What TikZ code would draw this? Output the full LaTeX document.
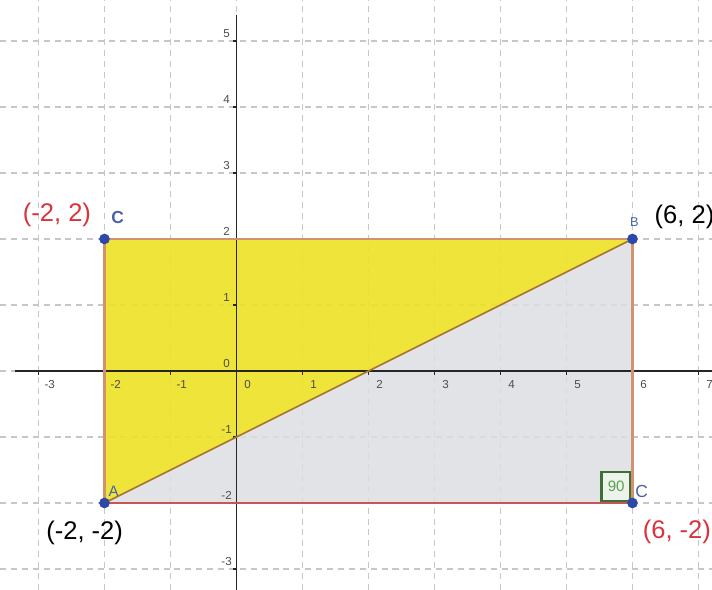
\documentclass[tikz,border=0pt]{standalone}
\usepackage{fontspec}
\setmainfont{Liberation Sans}
\definecolor{ptblue}{HTML}{2E48A8}
\definecolor{lblblue}{HTML}{4A62A8}
\definecolor{lblred}{HTML}{D8343C}
\definecolor{fillyellow}{HTML}{EEE224}
\definecolor{fillgray}{HTML}{DCDFE3}
\definecolor{edgetan}{HTML}{D29270}
\definecolor{edgered}{HTML}{C85658}
\definecolor{diag}{HTML}{A8782E}
\definecolor{angdark}{HTML}{3F6E38}
\definecolor{angtext}{HTML}{5E9C55}
\begin{document}
\begin{tikzpicture}[x=1cm,y=1cm,
  gridline/.style={draw=black!22, line width=0.5pt, dash pattern=on 2.6pt off 2.1pt},
  axisline/.style={draw=black!85, line width=0.8pt},
  ticklbl/.style={font=\fontsize{5}{6}\selectfont, text=black!70, inner sep=0pt},
  dot/.style={circle, fill=ptblue, inner sep=0pt, minimum size=4.6pt},
  ptname/.style={text=lblblue, inner sep=0pt},
  coordlbl/.style={font=\fontsize{11}{13}\selectfont, inner sep=0pt},
]
\useasboundingbox (-3.583,-3.318) rectangle (7.205,5.621);
\fill[white] (-3.583,-3.318) rectangle (7.205,5.621);

% grid
\foreach \x in {-3,...,7} \draw[gridline] (\x,-3.318) -- (\x,5.621);
\foreach \y in {-3,...,5} \draw[gridline] (-3.583,\y) -- (7.205,\y);

% points
\coordinate (A) at (-2,-2);
\coordinate (B) at (6,2);
\coordinate (C) at (6,-2);
\coordinate (D) at (-2,2);

% fills
\fill[fillyellow, fill opacity=0.9] (D) -- (B) -- (A) -- cycle;
\fill[fillgray, fill opacity=0.85] (A) -- (B) -- (C) -- cycle;

% axes
\coordinate (xl) at (-3.35,0);
\coordinate (xr) at (7.205,0);
\coordinate (yt) at (0,5.39);
\coordinate (yb) at (0,-3.318);
\draw[axisline] (xl) -- (xr);
\draw[axisline] (yb) -- (yt);
\foreach \x in {-3,...,7} \draw[black!85, line width=0.6pt] (\x,0) -- (\x,-0.06);
\foreach \y in {-3,...,5} \draw[black!85, line width=0.6pt] (0,\y) -- (-0.06,\y);
\foreach \x in {-3,...,7} \node[ticklbl] (xt\x) at (\x+0.17,-0.21) {\x};
\foreach \y in {-3,...,5} \node[ticklbl] (yt\y) at (-0.15,\y+0.11) {\y};

% right angle marker
\node[draw=angdark, fill=angtext!12, line width=1pt, minimum width=0.44cm, minimum height=0.44cm,
  inner sep=0pt, anchor=south east, text=angtext, font=\fontsize{6.5}{7}\selectfont] (ang) at (5.99,-1.99) {90};

% edges
\draw[edgetan, line width=1pt] (D) -- (B);
\draw[edgetan, line width=1pt] (B) -- (C);
\draw[edgered, line width=1.1pt] (A) -- (C);
\draw[edgetan, line width=1pt] (A) -- (D);
\draw[diag, line width=0.7pt] (A) -- (B);

% dots
\node[dot] (pA) at (A) {};
\node[dot] (pB) at (B) {};
\node[dot] (pC) at (C) {};
\node[dot] (pD) at (D) {};

% point names
\node[ptname, font=\bfseries\fontsize{7.5}{8}\selectfont] (nD) at (-1.80,2.33) {C};
\node[ptname, font=\fontsize{5.5}{6}\selectfont] (nB) at (6.03,2.26) {B};
\node[ptname, font=\fontsize{6.5}{7}\selectfont] (nA) at (-1.86,-1.82) {A};
\node[ptname, font=\fontsize{7.5}{8}\selectfont] (nC) at (6.14,-1.83) {C};

% coordinate labels
\node[coordlbl, text=lblred] (lD) at (-2.72,2.36) {(-2, 2)};
\node[coordlbl, anchor=west] (lB) at (6.33,2.33) {(6, 2)};
\node[coordlbl] (lA) at (-2.30,-2.45) {(-2, -2)};
\node[coordlbl, text=lblred, anchor=west] (lC) at (6.15,-2.44) {(6, -2)};
\end{tikzpicture}
\end{document}
